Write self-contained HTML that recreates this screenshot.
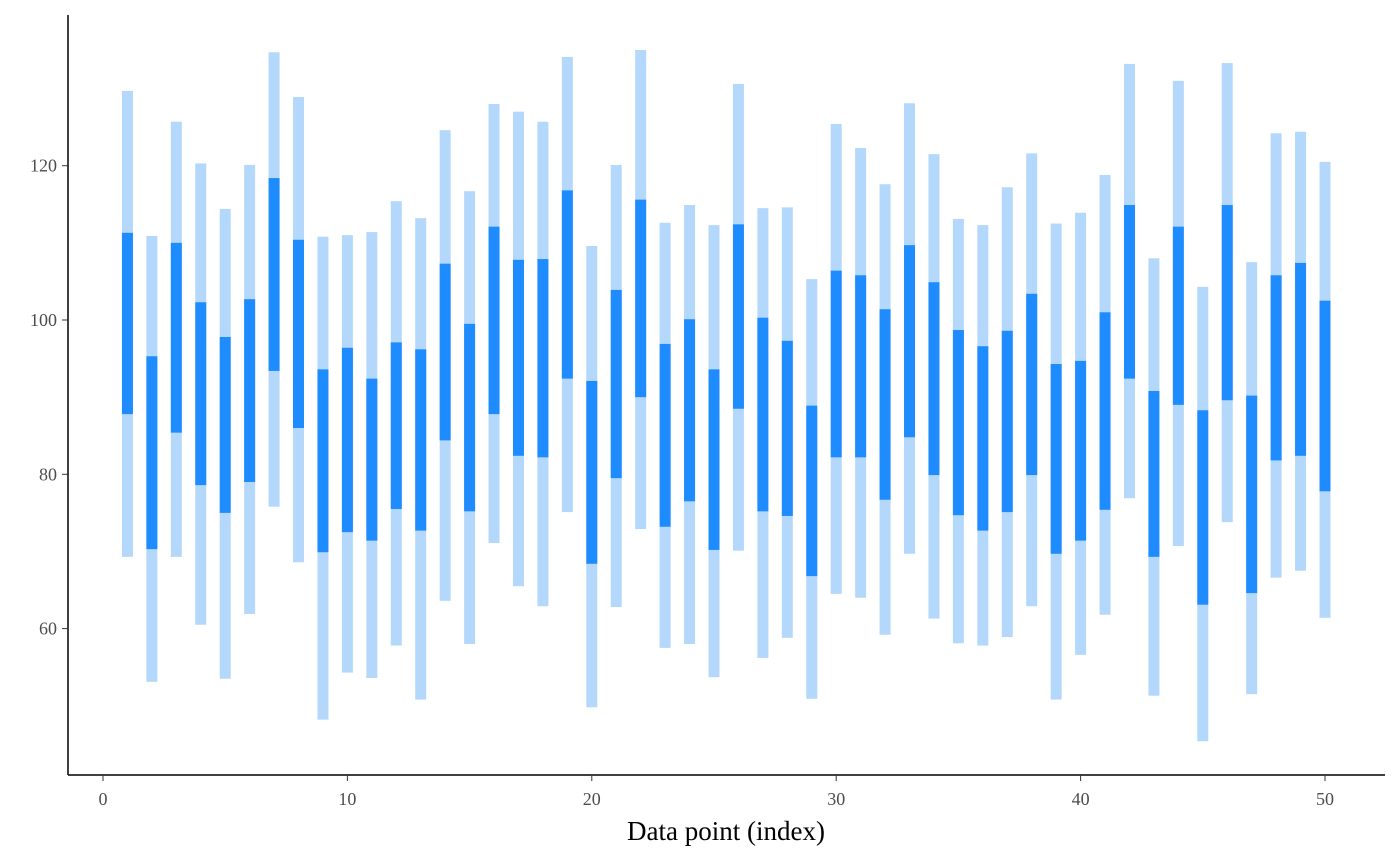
<!DOCTYPE html>
<html><head><meta charset="utf-8"><style>
html,body{margin:0;padding:0;background:#fff;}
svg{display:block;font-family:"Liberation Serif",serif;}
</style></head><body>
<svg id="chart" width="1400" height="866">
<line x1="68" y1="15" x2="68" y2="775" stroke="#000" stroke-width="1.5"/>
<line x1="68" y1="775" x2="1385" y2="775" stroke="#000" stroke-width="1.5"/>
<g id="marks"></g>
<g id="ticks"></g>
<text x="726" y="840" text-anchor="middle" font-size="27" fill="#000">Data point (index)</text>
</svg>
<script>
const outerHi=[129.7,110.9,125.7,120.3,114.4,120.1,134.7,128.9,110.8,111.0,111.4,115.4,113.2,124.6,116.7,128.0,127.0,125.7,134.1,109.6,120.1,135.0,112.6,114.9,112.3,130.6,114.5,114.6,105.3,125.4,122.3,117.6,128.1,121.5,113.1,112.3,117.2,121.6,112.5,113.9,118.8,133.2,108.0,131.0,104.3,133.3,107.5,124.2,124.4,120.5];
const innerHi=[111.3,95.3,110.0,102.3,97.8,102.7,118.4,110.4,93.6,96.4,92.4,97.1,96.2,107.3,99.5,112.1,107.8,107.9,116.8,92.1,103.9,115.6,96.9,100.1,93.6,112.4,100.3,97.3,88.9,106.4,105.8,101.4,109.7,104.9,98.7,96.6,98.6,103.4,94.3,94.7,101.0,114.9,90.8,112.1,88.3,114.9,90.2,105.8,107.4,102.5];
const innerLo=[87.8,70.3,85.4,78.6,75.0,79.0,93.4,86.0,69.9,72.5,71.4,75.5,72.7,84.4,75.2,87.8,82.4,82.2,92.4,68.4,79.5,90.0,73.2,76.5,70.2,88.5,75.2,74.6,66.8,82.2,82.2,76.7,84.8,79.9,74.7,72.7,75.1,79.9,69.7,71.4,75.4,92.4,69.3,89.0,63.1,89.6,64.6,81.8,82.4,77.8];
const outerLo=[69.3,53.1,69.3,60.5,53.5,61.9,75.8,68.6,48.2,54.3,53.6,57.8,50.8,63.6,58.0,71.1,65.5,62.9,75.1,49.8,62.8,72.9,57.5,58.0,53.7,70.1,56.2,58.8,50.9,64.5,64.0,59.2,69.7,61.3,58.1,57.8,58.9,62.9,50.8,56.6,61.8,76.9,51.3,70.7,45.4,73.8,51.5,66.6,67.5,61.4];
const xTicks=[0,10,20,30,40,50];
const yTicks=[60,80,100,120];
const X=v=>103+v*24.44;
const Y=v=>320-(v-100)*7.715;
const NS='http://www.w3.org/2000/svg';
const marks=document.getElementById('marks');
function rect(x,y1,y2,w,fill,name){
  const r=document.createElementNS(NS,'rect');
  r.setAttribute('x',x-w/2);r.setAttribute('y',Math.min(y1,y2));
  r.setAttribute('width',w);r.setAttribute('height',Math.abs(y2-y1));
  r.setAttribute('fill',fill);
  
  
  marks.appendChild(r);
}
outerHi.forEach((h,i)=>{
  const x=X(i+1);
  rect(x,Y(outerLo[i]),Y(h),11,'#b4d8fb','outer-interval');
  rect(x,Y(innerLo[i]),Y(innerHi[i]),11,'#1e8cff','inner-interval');
});
const tg=document.getElementById('ticks');
xTicks.forEach(t=>{
  const l=document.createElementNS(NS,'line');
  l.setAttribute('x1',X(t));l.setAttribute('x2',X(t));l.setAttribute('y1',775);l.setAttribute('y2',781);l.setAttribute('stroke','#333');
  
  
  tg.appendChild(l);
  const s=document.createElementNS(NS,'text');
  s.setAttribute('x',X(t));s.setAttribute('y',805);s.setAttribute('text-anchor','middle');s.setAttribute('font-size','18');s.setAttribute('fill','#4d4d4d');
  s.textContent=t;
  
  
  tg.appendChild(s);
});
yTicks.forEach(t=>{
  const l=document.createElementNS(NS,'line');
  l.setAttribute('x1',62);l.setAttribute('x2',68);l.setAttribute('y1',Y(t));l.setAttribute('y2',Y(t));l.setAttribute('stroke','#333');
  
  
  tg.appendChild(l);
  const s=document.createElementNS(NS,'text');
  s.setAttribute('x',57);s.setAttribute('y',Y(t)+6);s.setAttribute('text-anchor','end');s.setAttribute('font-size','18');s.setAttribute('fill','#4d4d4d');
  s.textContent=t;
  
  
  tg.appendChild(s);
});
</script>
</body></html>
